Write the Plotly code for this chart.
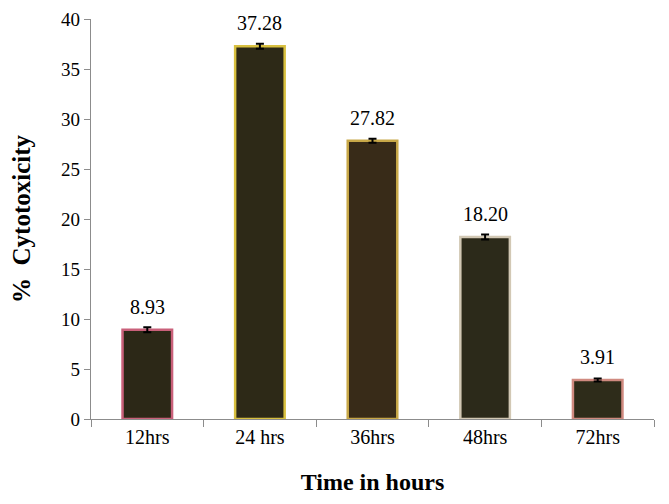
import plotly.graph_objects as go

categories = ["12hrs", "24 hrs", "36hrs", "48hrs", "72hrs"]
values = [8.93, 37.28, 27.82, 18.20, 3.91]
errors = [0.25, 0.25, 0.2, 0.25, 0.15]
labels = ["8.93", "37.28", "27.82", "18.20", "3.91"]

fill_colors = ["#2c2817", "#2d2917", "#382b18", "#2c2a1a", "#2e2c1a"]
edge_colors = ["#c9607a", "#d8c040", "#c8a848", "#d2c8b4", "#d08a80"]

SERIF = "Times New Roman, Liberation Serif, DejaVu Serif, serif"

fig = go.Figure()
fig.add_trace(go.Bar(
    x=categories, y=values,
    marker=dict(color=fill_colors, line=dict(color=edge_colors, width=2.5)),
    error_y=dict(type="data", array=errors, visible=True, color="black",
                 thickness=2, width=4),
    width=0.44,
    showlegend=False,
))

for c, v, t in zip(categories, values, labels):
    fig.add_annotation(x=c, y=v, text=t, showarrow=False, yanchor="bottom",
                       yshift=11, borderpad=0,
                       font=dict(family=SERIF, size=20, color="black"))

# page body has an 8px offset; margins compensate so the plot area lands where the reference has it
fig.update_layout(
    width=669, height=504,
    margin=dict(l=83, r=23, t=11, b=93),
    plot_bgcolor="white", paper_bgcolor="white",
    font=dict(family=SERIF, color="black"),
)
fig.update_xaxes(
    automargin=False,
    showline=True, linecolor="#8c8c8c", linewidth=1.3,
    ticks="outside", tickson="boundaries", ticklen=7, tickcolor="#8c8c8c",
    tickfont=dict(size=20, family=SERIF),
    title=dict(text="<b>Time in hours</b>", font=dict(size=24, family=SERIF), standoff=26),
    showgrid=False,
)
fig.update_yaxes(
    automargin=False,
    range=[0, 40], dtick=5,
    showline=True, linecolor="#8c8c8c", linewidth=1.3,
    ticks="outside", ticklen=6, tickcolor="#8c8c8c",
    tickfont=dict(size=19, family=SERIF),
    title=dict(text="<b>%  Cytotoxicity</b>", font=dict(size=25, family=SERIF), standoff=30),
    showgrid=False, zeroline=False,
)

fig.write_html("out.html")
